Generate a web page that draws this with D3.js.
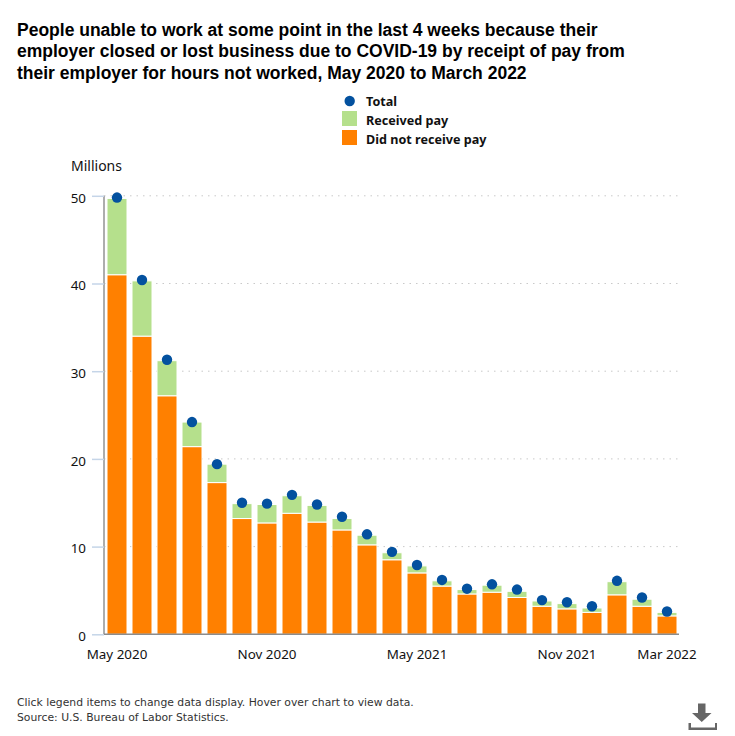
<!DOCTYPE html>
<html>
<head>
<meta charset="utf-8">
<script src="https://cdn.jsdelivr.net/npm/d3@7"></script>
<style>
  html, body { margin: 0; padding: 0; background: #fff; }
  text { font-family: "Noto Sans", sans-serif; }
  .title { font-family: "Liberation Sans", Arial, sans-serif; font-size: 17.5px; font-weight: bold; fill: #000; }
  .legend-label { font-size: 12.6px; font-weight: bold; fill: #111; }
  .note { font-family: "DejaVu Sans", sans-serif; font-size: 10.8px; fill: #333; }
  .axis text { font-size: 13.4px; fill: #111; }
</style>
</head>
<body>
<div id="chart"></div>
<script>
const months = ["May 2020","Jun 2020","Jul 2020","Aug 2020","Sep 2020","Oct 2020","Nov 2020","Dec 2020","Jan 2021","Feb 2021","Mar 2021","Apr 2021","May 2021","Jun 2021","Jul 2021","Aug 2021","Sep 2021","Oct 2021","Nov 2021","Dec 2021","Jan 2022","Feb 2022","Mar 2022"];
const didNotReceive = [41.0,34.0,27.2,21.4,17.3,13.2,12.7,13.8,12.8,11.9,10.2,8.5,7.0,5.5,4.6,4.8,4.2,3.2,2.9,2.5,4.5,3.2,2.1];
const receivedPay = [8.7,6.3,4.0,2.8,2.1,1.7,2.1,2.0,1.9,1.3,1.1,0.8,0.8,0.6,0.5,0.8,0.7,0.6,0.6,0.5,1.5,0.8,0.4];
const total = [49.8,40.4,31.3,24.2,19.4,15.0,14.9,15.9,14.8,13.4,11.4,9.4,7.9,6.2,5.2,5.7,5.1,3.9,3.65,3.2,6.1,4.2,2.6];
const tickMonths = ["May 2020","Nov 2020","May 2021","Nov 2021","Mar 2022"];
const yTicks = [0,10,20,30,40,50];
const titleLines = [
  "People unable to work at some point in the last 4 weeks because their",
  "employer closed or lost business due to COVID-19 by receipt of pay from",
  "their employer for hours not worked, May 2020 to March 2022"
];
const noteLines = [
  "Click legend items to change data display. Hover over chart to view data.",
  "Source: U.S. Bureau of Labor Statistics."
];

const orange = "#ff8000", green = "#b5e08c", blue = "#03519f";

const svg = d3.select("#chart").append("svg")
  .attr("width", 735)
  .attr("height", 736)
  .style("display", "block");

svg.selectAll(".title").data(titleLines).join("text")
  .attr("class", "title")
  .attr("x", 17)
  .attr("y", (d, i) => 35.5 + i * 21.6)
  .text(d => d);

const x = d3.scaleBand().domain(months).range([104.5, 679.5]).paddingInner(0.2).paddingOuter(0.1);
const y = d3.scaleLinear().domain([0, 50]).range([634.3, 195.8]);

// gridlines
svg.append("g").selectAll("line").data(yTicks.slice(1)).join("line")
  .attr("x1", 104).attr("x2", 678)
  .attr("y1", d => y(d)).attr("y2", d => y(d))
  .attr("stroke", "#c9c9c9")
  .attr("stroke-width", 1)
  .attr("stroke-dasharray", "1.5,5");

// stacked bars
const stackData = d3.stack().keys(["no", "yes"])(months.map((m, i) => ({ month: m, no: didNotReceive[i], yes: receivedPay[i] })));
const colors = { no: orange, yes: green };
svg.append("g").selectAll("g").data(stackData).join("g")
  .attr("fill", d => colors[d.key])
  .selectAll("rect").data(d => d).join("rect")
  .attr("x", d => x(d.data.month))
  .attr("width", x.bandwidth())
  .attr("y", d => y(d[1]))
  .attr("height", d => y(d[0]) - y(d[1]))
  .attr("stroke", "#fff")
  .attr("stroke-width", 1);

// axes
const yAxis = svg.append("g").attr("class", "axis")
  .attr("transform", "translate(104,0)")
  .call(d3.axisLeft(y).tickValues(yTicks).tickSize(12).tickPadding(6));
yAxis.selectAll(".tick line").attr("stroke", "#c5d5e8").attr("stroke-width", 1.5);
yAxis.selectAll(".tick text").attr("dy", "0.32em").attr("y", 2);
yAxis.select(".domain").attr("stroke", "#adadad").attr("stroke-width", 2).attr("d", "M0,195.8V634.3");

const xAxis = svg.append("g").attr("class", "axis")
  .attr("transform", "translate(0,634.3)")
  .call(d3.axisBottom(x).tickValues(tickMonths).tickSize(0).tickPadding(15));
xAxis.select(".domain").attr("stroke", "#8c8c8c").attr("stroke-width", 1.5).attr("d", "M104,0H679");

svg.append("text").attr("x", 71).attr("y", 171).attr("font-size", 14).attr("fill", "#111").text("Millions");

// total markers
svg.append("g").selectAll("circle").data(total).join("circle")
  .attr("cx", (d, i) => x(months[i]) + x.bandwidth() / 2)
  .attr("cy", d => y(d))
  .attr("r", 5.2)
  .attr("fill", blue);

// legend
const legend = svg.append("g");
legend.append("circle").attr("cx", 349.7).attr("cy", 101).attr("r", 5.2).attr("fill", blue);
legend.append("rect").attr("x", 342).attr("y", 111).attr("width", 15).attr("height", 15).attr("fill", green);
legend.append("rect").attr("x", 342).attr("y", 130).attr("width", 15).attr("height", 15).attr("fill", orange);
legend.selectAll("text").data(["Total", "Received pay", "Did not receive pay"]).join("text")
  .attr("class", "legend-label")
  .attr("x", 366)
  .attr("y", (d, i) => 106 + i * 19.2)
  .text(d => d);

svg.selectAll(".note").data(noteLines).join("text")
  .attr("class", "note")
  .attr("x", 17)
  .attr("y", (d, i) => 706 + i * 15)
  .text(d => d);

// download icon
const icon = svg.append("g").attr("fill", "#666");
icon.append("path").attr("d", "M698,703.5h7.5v9.5h6l-9.75,9l-9.75,-9h6z");
icon.append("path").attr("d", "M688.5,723h2.5v4.5h24v-4.5h2v7h-28.5z");
</script>
</body>
</html>
